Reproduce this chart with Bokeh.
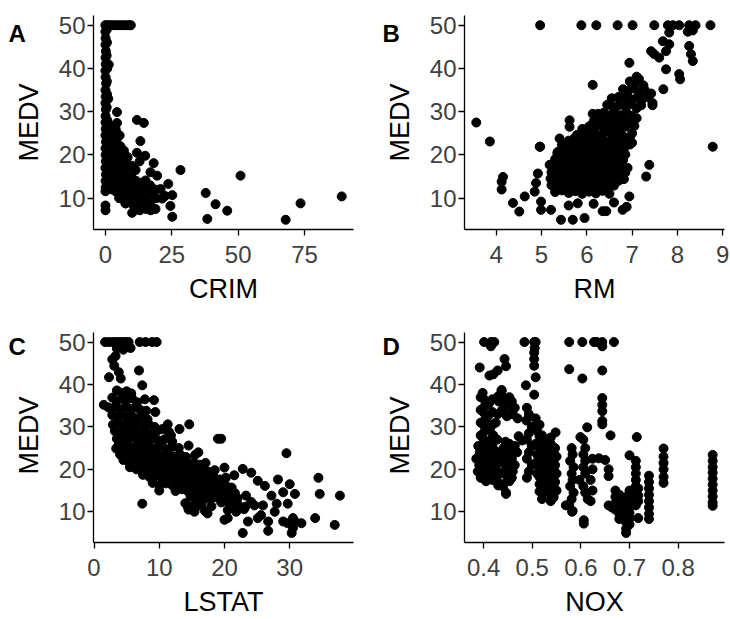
import math
from bokeh.plotting import figure
from bokeh.layouts import row, column
from bokeh.models import Range1d, Label, FixedTicker
from bokeh.embed import file_html
from bokeh.resources import INLINE

# ---------------- Panel A: CRIM vs MEDV ----------------
crim = [
    0.01, 0.5, 1.2, 2.0, 3.0, 4.0, 5.0, 6.0, 7.0, 8.0, 9.0, 9.6,
    0.03, 0.1, 0.05, 0.2, 0.08, 0.15, 0.02, 0.1, 0.3, 0.06, 0.12, 0.04, 0.2,
    0.09, 0.05, 0.14, 0.03, 0.25, 0.07, 0.11, 0.18, 0.04, 0.22, 0.09, 0.13, 0.06,
    0.55, 0.62, 0.5, 0.7, 0.58, 0.66, 0.52, 0.75, 0.6, 0.8, 0.68, 0.9, 0.72,
    1.3, 1.1, 1.4, 1.6, 1.2, 1.5, 1.3, 1.7,
    2.5, 2.7, 2.3, 2.8, 2.4, 2.6,
    3.9, 4.2, 3.8, 4.1, 4.3, 3.7, 4.0,
    5.4, 5.7, 5.3, 5.6, 5.5, 5.8, 5.2,
    7.0, 7.2, 6.9, 7.1, 6.8, 7.6,
    8.4, 8.7, 8.5, 8.3, 8.8,
    10.0, 9.8, 10.2, 9.9, 10.3, 10.1,
    11.9, 11.4, 11.6, 11.3, 11.7, 11.5,
    13.2, 12.9, 13.1, 12.8, 13.3, 13.0,
    15.0, 15.1, 14.8, 15.2, 14.9, 15.3,
    17.0, 16.8, 17.2, 16.9, 17.1,
    18.2, 19.5, 18.8, 19.2, 18.9,
    20.8, 21.4, 22.5,
    4.4, 4.4, 11.9, 14.5, 28.3, 50.9, 23.7, 25.2, 37.8, 41.5,
    45.9, 24.5, 25.2, 38.4, 7.6, 0.05, 0.08, 67.9, 73.5, 89.0,
    1.9, 3.2, 4.8, 6.2, 3.3, 6.4, 9.3, 2.0, 4.7,
]
medv_a = [
    50, 50, 50, 50, 50, 50, 50, 50, 50, 50, 50, 50,
    48.5, 47.0, 45.5, 44.0, 42.5, 41.0, 39.5, 38.0, 36.5, 35.0, 33.5, 32.0, 30.5,
    29.0, 27.5, 26.0, 24.5, 23.0, 21.5, 20.0, 18.5, 17.0, 15.5, 14.0, 12.5, 11.6,
    49.0, 46.0, 43.0, 40.0, 37.0, 34.0, 31.0, 28.0, 25.0, 22.0, 19.0, 16.0, 13.0,
    40.9, 33.0, 27.0, 24.0, 21.0, 18.0, 15.0, 12.5,
    25.0, 22.0, 19.5, 17.0, 14.5, 12.0,
    26.0, 23.5, 21.0, 18.5, 16.0, 13.5, 11.5,
    24.5, 22.0, 19.5, 17.0, 14.5, 12.0, 10.0,
    21.0, 18.0, 15.5, 13.0, 10.5, 8.8,
    19.5, 17.0, 14.5, 12.0, 9.5,
    17.5, 15.0, 13.0, 11.0, 8.5, 6.6,
    20.5, 16.5, 14.0, 12.0, 10.0, 7.5,
    23.2, 18.5, 13.5, 11.0, 9.0, 7.2,
    19.8, 14.1, 12.5, 10.5, 8.5, 7.5,
    16.0, 13.0, 11.0, 8.8, 7.2,
    18.1, 15.2, 12.0, 10.0, 7.5,
    12.1, 9.9, 10.5,
    29.9, 27.4, 28.1, 27.4, 16.5, 15.2, 13.3, 10.7, 11.2, 8.6,
    7.1, 8.2, 5.7, 5.2, 8.8, 8.3, 7.2, 5.0, 8.8, 10.4,
    23.4, 20.3, 19.8, 20.4, 15.8, 15.9, 11.6, 13.7, 24.8,
]

# ---------------- Panel B: RM vs MEDV ----------------
rm = [
    4.97, 5.88, 6.21, 6.68, 7.01, 7.49, 7.79, 7.90, 8.04, 8.26, 8.40, 8.73,
    3.56, 3.86, 8.78, 4.97, 6.13, 6.94, 7.68, 7.82, 7.75, 7.42, 7.49,
    7.60, 7.75, 7.69, 8.04, 8.06, 8.23, 8.34, 8.26, 8.30, 8.34, 7.82,
    6.95, 7.05, 7.15, 7.25, 7.10,
    6.80, 6.92, 7.02, 7.15, 7.28, 7.42,
    6.55, 6.70, 6.82, 6.95, 7.10, 7.22, 7.35, 7.45,
    6.45, 6.58, 6.70, 6.85, 6.98, 7.10, 7.20, 7.45,
    6.25, 6.38, 6.50, 6.62, 6.75, 6.88, 7.00, 7.10,
    6.15, 6.30, 6.42, 6.55, 6.68, 6.80, 6.95, 7.05,
    5.90, 6.05, 6.18, 6.30, 6.45, 6.58, 6.72, 6.85, 7.00,
    5.78, 5.90, 6.02, 6.15, 6.28, 6.40, 6.55, 6.68, 6.80, 6.95,
    5.60, 5.72, 5.85, 5.98, 6.10, 6.22, 6.35, 6.48, 6.60, 6.72, 6.85, 7.00,
    5.45, 5.58, 5.70, 5.82, 5.95, 6.08, 6.20, 6.32, 6.45, 6.58, 6.70, 6.82, 6.95,
    5.35, 5.48, 5.60, 5.72, 5.85, 5.98, 6.10, 6.22, 6.35, 6.48, 6.60, 6.72, 6.85,
    5.30, 5.42, 5.55, 5.68, 5.80, 5.92, 6.05, 6.18, 6.30, 6.42, 6.55, 6.68, 6.80,
    5.28, 5.40, 5.52, 5.65, 5.78, 5.90, 6.02, 6.15, 6.28, 6.40, 6.52, 6.65, 6.78, 6.90,
    5.22, 5.35, 5.48, 5.60, 5.72, 5.85, 5.98, 6.10, 6.22, 6.35, 6.48, 6.60, 6.72, 6.85,
    5.20, 5.32, 5.45, 5.58, 5.70, 5.82, 5.95, 6.08, 6.20, 6.32, 6.45, 6.58, 6.70, 6.82,
    5.22, 5.35, 5.48, 5.60, 5.72, 5.85, 5.98, 6.10, 6.22, 6.35, 6.48, 6.60,
    5.30, 5.45, 5.60, 5.75, 5.90, 6.05, 6.20, 6.35, 6.50,
    5.43, 5.69, 5.95, 6.35, 6.43, 6.79, 4.99, 5.21, 4.51, 4.37, 4.63,
    4.15, 4.12, 4.12, 6.94, 7.31, 7.38, 4.92, 4.88, 4.85, 4.99, 5.18,
    5.36, 5.40, 5.62, 5.62, 6.13, 4.96, 5.60, 5.80, 6.15, 6.60, 6.88,
]
medv_b = [
    50, 50, 50, 50, 50, 50, 50, 50, 50, 50, 50, 50,
    27.5, 23.1, 21.9, 21.9, 36.2, 41.3, 46.3, 45.6, 44.0, 44.0, 43.3,
    42.5, 39.8, 35.2, 38.7, 37.5, 48.5, 48.8, 45.2, 43.3, 41.7, 48.3,
    37.0, 36.4, 37.6, 36.1, 38.1,
    35.2, 34.9, 35.4, 34.6, 35.0, 34.2,
    33.1, 33.4, 33.2, 33.0, 33.2, 32.8, 33.4, 32.0,
    31.6, 31.0, 31.5, 31.2, 31.8, 30.8, 31.5, 31.5,
    29.5, 29.8, 29.1, 29.6, 29.2, 29.8, 29.0, 28.5,
    27.8, 28.2, 27.6, 28.0, 27.5, 28.2, 27.5, 26.7,
    26.0, 26.6, 26.2, 26.8, 26.1, 26.6, 26.0, 26.5, 25.0,
    24.6, 25.2, 24.8, 25.0, 24.5, 25.3, 24.7, 25.0, 24.3, 24.0,
    23.3, 23.8, 23.5, 23.0, 23.8, 23.2, 23.6, 23.0, 23.5, 23.1, 23.7, 22.8,
    22.3, 21.9, 22.2, 21.7, 22.4, 21.8, 22.2, 21.7, 22.3, 21.8, 22.0, 21.5, 22.4,
    20.4, 20.8, 20.2, 20.7, 20.3, 20.9, 20.1, 20.6, 20.2, 20.8, 20.0, 20.5, 20.1,
    19.0, 19.4, 18.8, 19.2, 18.7, 19.3, 18.9, 19.4, 18.6, 19.1, 18.7, 19.3, 18.8,
    17.4, 17.8, 17.2, 17.6, 17.1, 17.7, 17.3, 17.8, 17.2, 17.6, 17.0, 17.5, 17.2, 17.0,
    16.0, 16.4, 15.8, 16.2, 15.6, 16.1, 15.7, 16.3, 15.6, 16.0, 15.5, 16.1, 15.4, 15.9,
    14.5, 14.9, 14.2, 14.6, 14.1, 14.7, 14.3, 14.8, 14.0, 14.5, 14.1, 14.6, 14.0, 14.4,
    13.0, 13.4, 12.7, 13.2, 12.6, 13.1, 12.8, 13.3, 12.6, 13.0, 12.5, 12.9,
    11.4, 11.8, 11.2, 11.6, 11.0, 11.5, 11.1, 11.7, 11.0,
    5.0, 5.0, 5.4, 7.0, 7.0, 7.3, 7.3, 7.3, 6.9, 8.9, 10.4,
    14.9, 13.8, 12.0, 10.4, 15.0, 17.7, 15.7, 13.5, 11.5, 9.2, 17.7,
    20.7, 23.8, 28.0, 26.5, 29.5, 21.9, 8.3, 8.8, 8.7, 9.0, 8.0,
]

# ---------------- Panel C: LSTAT vs MEDV ----------------
lstat = [
    1.7, 2.3, 2.9, 3.4, 3.9, 4.4, 4.9, 5.3, 7.0, 7.9, 8.9, 9.6,
    5.6, 2.8, 3.3, 3.1, 2.3, 4.1, 3.8, 6.9, 7.4, 3.5, 4.5,
    3.5, 4.2, 5.0, 5.7,
    1.5, 2.8, 3.5, 4.3, 5.0, 5.8, 6.6, 7.8, 9.2,
    2.2, 2.6, 3.3, 4.0, 4.8, 5.5, 6.3, 7.1, 8.0, 9.4,
    2.8, 3.6, 4.3, 5.0, 5.8, 6.5, 7.3, 8.2,
    2.9, 3.7, 4.4, 5.2, 5.9, 6.7, 7.5, 8.4, 9.3,
    3.2, 4.0, 4.7, 5.5, 6.2, 7.0, 7.8, 8.6, 9.5, 10.5, 11.5,
    14.6, 13.1, 11.3, 11.8,
    3.5, 4.3, 5.0, 5.8, 6.6, 7.4, 8.2, 9.0, 9.9, 10.8, 12.0,
    3.8, 4.5, 5.3, 6.1, 6.9, 7.7, 8.5, 9.3, 10.1, 11.0, 12.0, 13.0, 14.5,
    3.4, 4.0, 4.8, 5.6, 6.4, 7.2, 8.0, 8.8, 9.6, 10.5, 11.4, 12.3, 13.2, 14.1, 15.5, 16.0,
    19.0, 19.5,
    4.5, 5.4, 6.3, 7.2, 8.1, 9.0, 9.9, 10.8, 11.7, 12.6, 13.5, 14.4, 15.3, 16.2, 17.1,
    5.5, 6.5, 7.5, 8.5, 9.5, 10.4, 11.3, 12.2, 13.1, 14.0, 14.9, 15.8, 16.7, 17.6, 18.5, 20.0,
    22.8, 24.1,
    7.5, 8.5, 9.4, 10.3, 11.2, 12.1, 13.0, 13.9, 14.8, 15.7, 16.6, 17.5, 18.4, 19.3, 20.2, 21.5,
    9.0, 10.0, 11.0, 12.0, 13.0, 13.9, 14.8, 15.7, 16.6, 17.5, 18.4, 19.3, 20.2, 21.1,
    10.0, 12.5, 13.5, 14.4, 15.3, 16.2, 17.1, 18.0, 18.9, 19.8, 20.7, 21.6,
    14.8, 15.7, 16.6, 17.5, 18.4, 19.3, 20.2, 21.1, 22.0,
    14.0, 15.2, 16.5, 18.0, 19.5, 20.8, 22.0, 23.2,
    14.5, 15.5, 17.0, 20.5, 21.8, 23.0,
    14.4, 15.4, 17.4, 20.0, 20.5, 22.8, 24.6, 25.6, 26.7, 26.7, 27.7,
    25.1, 26.2, 28.2, 30.0, 27.2, 29.0, 30.8, 29.5, 34.4, 34.6, 37.7,
    33.9, 36.9, 30.3, 29.0, 29.7, 30.8, 31.8, 30.5, 30.5,
    23.3, 24.1, 22.1, 25.1, 23.6, 25.9, 28.0, 29.7, 7.4,
]
medv_c = [
    50, 50, 50, 50, 50, 50, 50, 50, 50, 50, 50, 50,
    48.6, 45.9, 46.7, 44.4, 41.7, 41.4, 42.9, 43.3, 39.8, 48.5, 48.2,
    38.6, 38.0, 38.4, 37.9,
    35.2, 36.9, 36.0, 36.7, 36.2, 36.8, 35.8, 36.5, 36.3,
    34.6, 34.3, 34.8, 34.1, 34.7, 34.2, 34.6, 34.0, 33.8, 33.5,
    32.8, 32.3, 32.9, 32.2, 32.6, 32.0, 32.5, 31.8,
    30.5, 31.0, 30.4, 30.9, 30.3, 30.8, 30.2, 30.6, 30.0,
    29.0, 28.6, 29.2, 28.5, 29.1, 28.4, 28.9, 28.3, 28.7, 29.5, 28.8,
    30.6, 29.5, 30.6, 28.0,
    27.2, 27.6, 27.0, 27.5, 26.9, 27.4, 26.8, 27.3, 26.7, 27.1, 26.5,
    25.8, 25.2, 25.6, 25.1, 25.7, 25.0, 25.5, 24.9, 25.4, 24.8, 25.3, 25.0, 25.6,
    24.9, 23.5, 24.0, 23.4, 23.9, 23.3, 23.8, 23.2, 23.7, 23.1, 23.6, 23.0, 23.5, 22.9, 23.4, 24.0,
    27.2, 27.2,
    22.2, 21.7, 22.1, 21.6, 22.0, 21.5, 21.9, 21.4, 21.8, 21.3, 21.7, 21.2, 21.6, 21.1, 21.5,
    20.5, 20.0, 20.4, 19.9, 20.3, 19.8, 20.2, 19.7, 20.1, 19.6, 20.0, 19.5, 19.9, 19.4, 19.8, 20.4,
    20.1, 19.2,
    18.7, 18.2, 18.6, 18.1, 18.5, 18.0, 18.4, 17.9, 18.3, 17.8, 18.2, 17.7, 18.1, 17.6, 18.0, 18.6,
    16.8, 16.3, 16.7, 16.2, 16.6, 16.1, 16.5, 16.0, 16.4, 15.9, 16.3, 15.8, 16.2, 15.7,
    15.0, 14.9, 15.3, 14.8, 15.2, 14.7, 15.1, 14.6, 15.0, 14.5, 14.9, 14.4,
    13.6, 13.2, 13.5, 13.1, 13.4, 13.0, 13.3, 12.9, 13.2,
    12.0, 11.5, 11.8, 11.3, 12.2, 11.6, 11.9, 11.2,
    10.5, 10.8, 10.2, 10.4, 10.0, 10.6,
    11.1, 10.0, 9.6, 8.1, 8.5, 5.0, 11.5, 9.2, 5.5, 7.7, 10.0,
    17.3, 16.1, 17.6, 16.5, 13.8, 14.6, 14.2, 23.8, 18.0, 14.2, 13.8,
    8.5, 6.9, 5.0, 7.7, 7.3, 7.7, 7.3, 8.5, 6.2,
    13.8, 12.3, 11.1, 8.5, 7.7, 11.5, 11.9, 11.9, 11.9,
]

# ---------------- Panel D: NOX vs MEDV ----------------
nox = [
    0.401, 0.415, 0.422, 0.484, 0.504, 0.507, 0.576, 0.603, 0.627, 0.633, 0.644, 0.668,
    0.415, 0.505, 0.644,
    0.392, 0.443, 0.446, 0.429, 0.412, 0.420, 0.504, 0.504, 0.504, 0.507, 0.504, 0.487,
    0.576, 0.603, 0.644, 0.644, 0.644, 0.644, 0.644, 0.644, 0.661, 0.715, 0.613, 0.548, 0.599,
    0.398, 0.401, 0.403, 0.399, 0.404, 0.400, 0.402, 0.398, 0.401, 0.403, 0.400, 0.404, 0.399, 0.402, 0.405,
    0.389, 0.392, 0.385, 0.391, 0.388,
    0.411, 0.409, 0.413, 0.410, 0.412, 0.409, 0.411, 0.413,
    0.422, 0.425, 0.420, 0.428, 0.424, 0.430, 0.446, 0.420, 0.425, 0.437, 0.430,
    0.437, 0.440, 0.445, 0.438, 0.448, 0.445, 0.441, 0.448, 0.439, 0.446, 0.443, 0.449, 0.440, 0.446,
    0.431, 0.429, 0.428, 0.431, 0.429, 0.433, 0.430,
    0.458, 0.464, 0.460, 0.470, 0.464, 0.469, 0.458, 0.464, 0.460, 0.458, 0.472, 0.479,
    0.394, 0.394, 0.394, 0.394, 0.394, 0.394, 0.394, 0.394,
    0.418, 0.418, 0.418, 0.418, 0.418, 0.418, 0.418, 0.418, 0.418,
    0.453, 0.453, 0.453, 0.453, 0.453, 0.453, 0.453, 0.453, 0.453, 0.453,
    0.489, 0.493, 0.488, 0.499, 0.493, 0.489, 0.499, 0.493, 0.489, 0.499, 0.493, 0.489,
    0.507, 0.510, 0.507, 0.510, 0.507, 0.510,
    0.515, 0.515, 0.515, 0.515, 0.515, 0.515, 0.515, 0.515,
    0.520, 0.520, 0.520, 0.520, 0.520, 0.520, 0.520, 0.520, 0.520, 0.520, 0.520,
    0.528, 0.528, 0.528, 0.528, 0.528, 0.528, 0.528, 0.528, 0.528,
    0.538, 0.538, 0.538, 0.538, 0.538, 0.538, 0.538, 0.538, 0.538, 0.538, 0.538,
    0.544, 0.544, 0.544, 0.544, 0.544, 0.544, 0.544,
    0.547, 0.550, 0.547, 0.550, 0.547, 0.550,
    0.581, 0.583, 0.578, 0.585, 0.581, 0.583, 0.578, 0.585, 0.581, 0.576, 0.583, 0.569, 0.582,
    0.605, 0.609, 0.605, 0.609, 0.605, 0.609, 0.597, 0.605, 0.609, 0.614, 0.606, 0.606,
    0.624, 0.624, 0.620, 0.624, 0.620,
    0.637, 0.650, 0.657, 0.657,
    0.671, 0.671, 0.671, 0.671,
    0.679, 0.679, 0.679, 0.679, 0.679,
    0.693, 0.693, 0.693, 0.693, 0.693, 0.693, 0.693,
    0.700, 0.700, 0.700, 0.700, 0.700, 0.700, 0.700,
    0.713, 0.713, 0.713, 0.713, 0.713, 0.713, 0.713, 0.713,
    0.718, 0.718, 0.718, 0.718, 0.657, 0.664,
    0.740, 0.740, 0.740, 0.740, 0.740, 0.740, 0.740, 0.740,
    0.770, 0.770, 0.770, 0.770, 0.770, 0.770,
    0.871, 0.871, 0.871, 0.871, 0.871, 0.871, 0.871, 0.871, 0.871, 0.871,
]
medv_d = [
    50, 50, 50, 50, 50, 50, 50, 50, 50, 50, 50, 50,
    49.0, 48.6, 49.0,
    44.0, 46.0, 44.3, 43.3, 42.1, 42.4, 47.5, 46.0, 44.4, 41.7, 37.6, 39.8,
    43.6, 41.4, 43.3, 36.8, 35.2, 33.7, 31.4, 30.6, 28.0, 27.6, 29.9, 28.7, 27.6,
    38.0, 36.5, 35.0, 33.5, 32.0, 30.5, 29.0, 27.5, 26.0, 24.5, 23.0, 21.5, 20.0, 18.5, 17.2,
    25.5, 24.0, 22.5, 21.0, 19.5,
    35.5, 32.5, 29.5, 26.5, 24.0, 22.0, 20.0, 18.0,
    24.5, 22.8, 21.2, 19.6, 18.0, 16.2, 14.2, 28.0, 31.0, 38.7, 37.2,
    38.5, 37.0, 35.5, 34.0, 32.5, 26.5, 25.0, 23.5, 22.0, 20.5, 19.0, 17.5, 16.0, 14.5,
    36.0, 33.0, 27.0, 24.0, 21.5, 19.0, 17.0,
    36.0, 34.5, 33.0, 32.0, 25.5, 24.0, 22.5, 21.0, 19.5, 18.0, 27.8, 26.8,
    37.0, 34.0, 31.0, 28.0, 25.5, 23.0, 20.5, 18.0,
    36.5, 33.5, 30.5, 27.5, 25.5, 23.5, 21.5, 19.5, 17.5,
    37.0, 35.0, 33.0, 26.0, 24.6, 23.2, 21.7, 20.2, 18.7, 17.2,
    34.5, 33.0, 31.5, 30.0, 28.5, 27.0, 25.5, 24.0, 22.5, 21.0, 19.5, 18.0,
    32.0, 29.0, 26.0, 23.5, 21.5, 19.0,
    30.5, 27.8, 25.2, 22.8, 20.4, 18.2, 16.5, 14.8,
    28.0, 26.5, 25.0, 23.5, 22.0, 20.5, 19.0, 17.5, 16.0, 14.5, 13.0,
    26.8, 25.2, 23.8, 22.3, 20.8, 19.4, 18.0, 16.6, 15.0,
    27.5, 26.0, 24.5, 23.0, 21.5, 20.0, 18.5, 17.0, 15.5, 14.0, 12.5,
    24.2, 22.2, 20.2, 18.2, 16.2, 14.4, 13.4,
    25.0, 23.0, 21.0, 19.0, 17.0, 15.0,
    25.0, 23.5, 22.0, 20.5, 19.0, 17.5, 16.0, 14.5, 13.0, 11.7, 10.2, 11.5, 10.0,
    27.0, 25.0, 23.5, 22.0, 20.5, 19.0, 17.5, 16.0, 14.5, 13.0, 8.0, 7.2,
    22.5, 20.0, 17.5, 15.0, 12.5,
    22.6, 22.2, 20.0, 18.4,
    15.0, 13.5, 12.0, 10.5,
    14.0, 12.5, 11.0, 9.5, 8.3,
    13.5, 12.0, 10.5, 9.0, 7.5, 6.0, 5.0,
    23.3, 15.0, 13.0, 11.2, 9.7, 8.4, 7.0,
    22.0, 20.5, 19.0, 17.5, 16.0, 14.5, 13.0, 11.5,
    15.5, 13.8, 12.5, 8.5, 11.5, 11.0,
    18.5, 17.0, 15.5, 14.0, 12.5, 11.0, 9.5, 8.3,
    24.9, 23.0, 21.5, 20.0, 18.2, 16.8,
    23.4, 22.0, 20.5, 19.2, 17.8, 16.4, 15.0, 13.6, 12.2, 11.4,
]

medv_ticks = [10, 20, 30, 40, 50]
crim_ticks = [0, 25, 50, 75]
rm_ticks = [4, 5, 6, 7, 8, 9]
lstat_ticks = [0, 10, 20, 30]
nox_ticks = [0.4, 0.5, 0.6, 0.7, 0.8]

FONT = "Liberation Sans"
FRAME_W, FRAME_H = 260, 214
Y_RANGE = (2.75, 52.25)


def panel(x, y, xr, xticks, xlabel, left, right, top, bottom):
    p = figure(width=left + FRAME_W + right, height=top + FRAME_H + bottom,
               x_range=Range1d(*xr), y_range=Range1d(*Y_RANGE),
               output_backend="svg", toolbar_location=None,
               min_border_left=left, min_border_right=right,
               min_border_top=top, min_border_bottom=bottom)
    p.scatter(x, y, size=9, color="black", line_color="black")
    p.xgrid.visible = False
    p.ygrid.visible = False
    p.outline_line_color = None
    for ax in (p.xaxis[0], p.yaxis[0]):
        ax.axis_line_color = "black"
        ax.axis_line_width = 1.3
        ax.major_tick_line_color = "black"
        ax.major_tick_line_width = 1.3
        ax.major_tick_out = 6
        ax.major_tick_in = 0
        ax.minor_tick_line_color = None
        ax.major_label_text_font = FONT
        ax.major_label_text_font_size = "24px"
        ax.major_label_text_color = "#404040"
        ax.axis_label_text_font = FONT
        ax.axis_label_text_font_size = "27px"
        ax.axis_label_text_font_style = "normal"
        ax.axis_label_text_color = "black"
    p.xaxis.ticker = FixedTicker(ticks=xticks)
    p.yaxis.ticker = FixedTicker(ticks=medv_ticks)
    p.xaxis.axis_label = xlabel
    p.xaxis.major_label_standoff = 10
    p.yaxis.major_label_standoff = 2
    p.xaxis.axis_label_standoff = 8
    return p


def side(width, top, bottom, letter, letter_x, letter_y, ylabel_x):
    """Narrow strip left of a panel holding the panel letter and the y title.
    Its frame has the same vertical extent as the panel frame next to it;
    label y positions are measured up from the frame bottom."""
    s = figure(width=width, height=top + FRAME_H + bottom,
               x_axis_type=None, y_axis_type=None,
               x_range=Range1d(0, 1), y_range=Range1d(0, 1),
               output_backend="svg", toolbar_location=None,
               min_border_left=0, min_border_right=0,
               min_border_top=top, min_border_bottom=bottom)
    s.outline_line_color = None
    s.xgrid.visible = False
    s.ygrid.visible = False
    s.add_layout(Label(text=letter, x=letter_x, y=letter_y,
                       x_units="screen", y_units="screen",
                       text_font=FONT, text_font_size="24px", text_font_style="bold",
                       text_color="black", text_baseline="alphabetic", text_align="left"))
    s.add_layout(Label(text="MEDV", x=ylabel_x, y=FRAME_H / 2,
                       x_units="screen", y_units="screen", angle=math.pi / 2,
                       text_font=FONT, text_font_size="27px", text_color="black",
                       text_baseline="middle", text_align="center"))
    return s


la = side(50, 15, 81, "A", 8, FRAME_H - 17.8, 28)
pa = panel(crim, medv_a, (-4.45, 93.43), crim_ticks, "CRIM", 43, 12, 15, 81)
lb = side(55, 15, 81, "B", 17, FRAME_H - 17.8, 34)
pb = panel(rm, medv_b, (3.30, 9.04), rm_ticks, "RM", 44, 6, 15, 81)
lc = side(50, 22, 73, "C", 8, FRAME_H - 18.2, 28)
pc = panel(lstat, medv_c, (-0.08, 39.78), lstat_ticks, "LSTAT", 43, 12, 22, 73)
ld = side(55, 22, 73, "D", 17, FRAME_H - 18.2, 34)
pd_ = panel(nox, medv_d, (0.3607, 0.8953), nox_ticks, "NOX", 44, 6, 22, 73)

layout = column(row(la, pa, lb, pb), row(lc, pc, ld, pd_))
open("out.html", "w").write(file_html(layout, INLINE))
